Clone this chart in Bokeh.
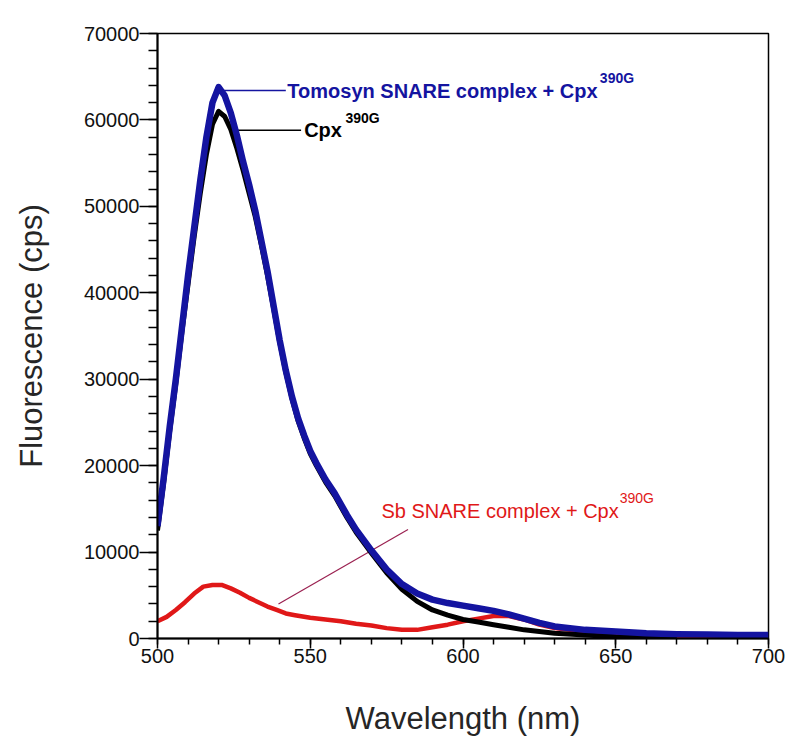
from bokeh.plotting import figure
from bokeh.models import SingleIntervalTicker, Range1d
from bokeh.embed import file_html
from bokeh.resources import INLINE
from bokeh.core.properties import value

# ---- data (wavelength nm, fluorescence cps) ----
wl_blue = [500, 502, 504, 506, 508, 510, 512, 514, 516, 518, 520, 522, 524, 526, 528, 530,
           532, 534, 536, 538, 540, 542, 544, 546, 548, 550, 552, 555, 558, 562, 565, 570, 575,
           580, 585, 590, 595, 600, 605, 610, 615, 620, 625, 630, 640, 650, 660, 670, 680,
           690, 700]
fl_blue = [13000, 18500, 24500, 30000, 36000, 42000, 47500, 53000, 58000, 62000, 63800, 62800,
           60800, 58200, 55200, 52500, 49500, 46000, 42500, 38500, 34500, 31000, 28000, 25500,
           23500, 21700, 20300, 18400, 16800, 14300, 12600, 10200, 8000, 6300, 5200, 4500, 4100,
           3800, 3500, 3200, 2800, 2300, 1800, 1400, 1000, 800, 600, 500, 450, 400, 400]

wl_black = [500, 502, 504, 506, 508, 510, 512, 514, 516, 518, 520, 522, 524, 526, 528, 530,
            532, 534, 536, 538, 540, 542, 544, 546, 548, 550, 552, 555, 558, 562, 565, 570, 575,
            580, 585, 590, 595, 600, 605, 610, 615, 620, 625, 630, 640, 650, 660, 670]
fl_black = [12500, 18000, 24000, 29500, 35500, 41000, 46500, 51500, 56000, 59500, 61000, 60400,
            58900, 56700, 54200, 51500, 48800, 45500, 42000, 38200, 34300, 30800, 27800, 25200,
            23200, 21400, 20000, 18100, 16500, 14000, 12300, 9900, 7600, 5700, 4300, 3300, 2700,
            2200, 1900, 1600, 1300, 1000, 800, 600, 400, 200, 100, 100]

wl_red = [500, 503, 506, 509, 512, 515, 518, 521, 524, 527, 530, 533, 536, 539, 542, 545, 550,
          555, 560, 565, 570, 575, 580, 585, 590, 595, 600, 605, 610, 615, 620, 625, 630, 640,
          650, 660, 670, 680, 690]
fl_red = [2000, 2500, 3300, 4200, 5200, 6000, 6200, 6200, 5800, 5300, 4700, 4200, 3700, 3300,
          2900, 2700, 2400, 2200, 2000, 1700, 1500, 1200, 1000, 1000, 1300, 1600, 2000, 2300,
          2600, 2600, 2200, 1600, 1200, 800, 500, 300, 200, 200, 200]

# annotation labels
label_blue = "Tomosyn SNARE complex + Cpx"
label_black = "Cpx"
label_red = "Sb SNARE complex + Cpx"
label_sup = "390G"

BLUE = "#1414a0"
RED = "#e01818"
FONT = "Liberation Sans"

p = figure(width=786, height=743, x_range=Range1d(500, 700), y_range=Range1d(0, 70000),
           output_backend="svg", toolbar_location=None,
           min_border_left=157, min_border_right=18, min_border_top=33, min_border_bottom=105)

p.xgrid.visible = False
p.ygrid.visible = False
p.outline_line_color = "black"
p.outline_line_width = 1.5
p.background_fill_color = "white"
p.border_fill_color = "white"

p.xaxis.ticker = SingleIntervalTicker(interval=50, num_minor_ticks=5)
p.yaxis.ticker = SingleIntervalTicker(interval=10000, num_minor_ticks=5)

for ax in (p.xaxis[0], p.yaxis[0]):
    ax.axis_line_width = 2
    ax.axis_line_color = "black"
    ax.major_tick_line_width = 1.5
    ax.minor_tick_line_width = 1.5
    ax.major_tick_in = 0
    ax.minor_tick_in = 0
    ax.major_label_text_font = FONT
    ax.major_label_text_font_size = "20px"
    ax.major_label_text_color = "#111111"
    ax.axis_label_text_font = FONT
    ax.axis_label_text_font_size = "31px"
    ax.axis_label_text_font_style = "normal"
    ax.axis_label_text_color = "#262626"

p.xaxis.major_tick_out = 10
p.xaxis.minor_tick_out = 6
p.xaxis.major_label_standoff = 0
p.xaxis.axis_label = "Wavelength (nm)"
p.xaxis.axis_label_standoff = 35

p.yaxis.major_tick_out = 18
p.yaxis.minor_tick_out = 9
p.yaxis.major_label_standoff = 0
p.yaxis.axis_label = "Fluorescence (cps)"
p.yaxis.axis_label_standoff = 32

# leader lines
p.line([520.5, 542], [63400, 63400], line_color=BLUE, line_width=1.5)
p.line([524, 547], [58800, 58800], line_color="black", line_width=1.5)
p.line([539.6, 582], [4000, 12600], line_color="#9a2050", line_width=1.2)

# curves
p.line(wl_red, fl_red, line_color=RED, line_width=4.5, line_join="round")
p.line(wl_black, fl_black, line_color="black", line_width=5, line_join="round")
p.line(wl_blue, fl_blue, line_color=BLUE, line_width=6.5, line_join="round")

# labels
p.text(x=[542.5], y=[63400], text=[label_blue], text_color=BLUE, text_font=value(FONT),
       text_font_size="20px", text_font_style="bold", text_baseline="middle", text_align="left")
p.text(x=[644.8], y=[64900], text=[label_sup], text_color=BLUE, text_font=value(FONT),
       text_font_size="14px", text_font_style="bold", text_baseline="middle", text_align="left")

p.text(x=[548], y=[58800], text=[label_black], text_color="black", text_font=value(FONT),
       text_font_size="20px", text_font_style="bold", text_baseline="middle", text_align="left")
p.text(x=[561.5], y=[60200], text=[label_sup], text_color="black", text_font=value(FONT),
       text_font_size="14px", text_font_style="bold", text_baseline="middle", text_align="left")

p.text(x=[573.3], y=[14800], text=[label_red], text_color=RED, text_font=value(FONT),
       text_font_size="20px", text_baseline="middle", text_align="left")
p.text(x=[651.3], y=[16200], text=[label_sup], text_color=RED, text_font=value(FONT),
       text_font_size="14px", text_baseline="middle", text_align="left")

open("out.html", "w").write(file_html(p, INLINE))
